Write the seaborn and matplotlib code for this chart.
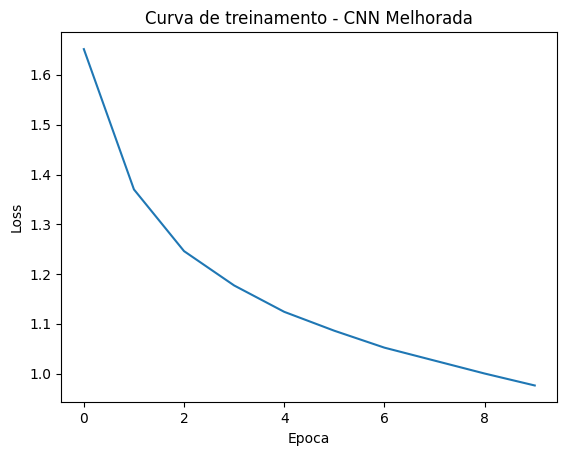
import matplotlib
matplotlib.use("Agg")
import matplotlib.pyplot as plt
import seaborn as sns
import pandas as pd

epochs = [0, 1, 2, 3, 4, 5, 6, 7, 8, 9]
loss = [1.652, 1.370, 1.246, 1.177, 1.124, 1.086, 1.052, 1.026, 1.000, 0.976]

df = pd.DataFrame({"Epoca": epochs, "Loss": loss})

fig, ax = plt.subplots(figsize=(5.67, 4.55), dpi=100)
fig.subplots_adjust(left=61.3/567, right=557.3/567, top=1-32.3/455, bottom=1-402.3/455)
sns.lineplot(data=df, x="Epoca", y="Loss", ax=ax, color="#1f77b4")
ax.set_title("Curva de treinamento - CNN Melhorada")
ax.set_xlabel("Epoca")
ax.set_ylabel("Loss")
fig.savefig("out.png", dpi=100)
